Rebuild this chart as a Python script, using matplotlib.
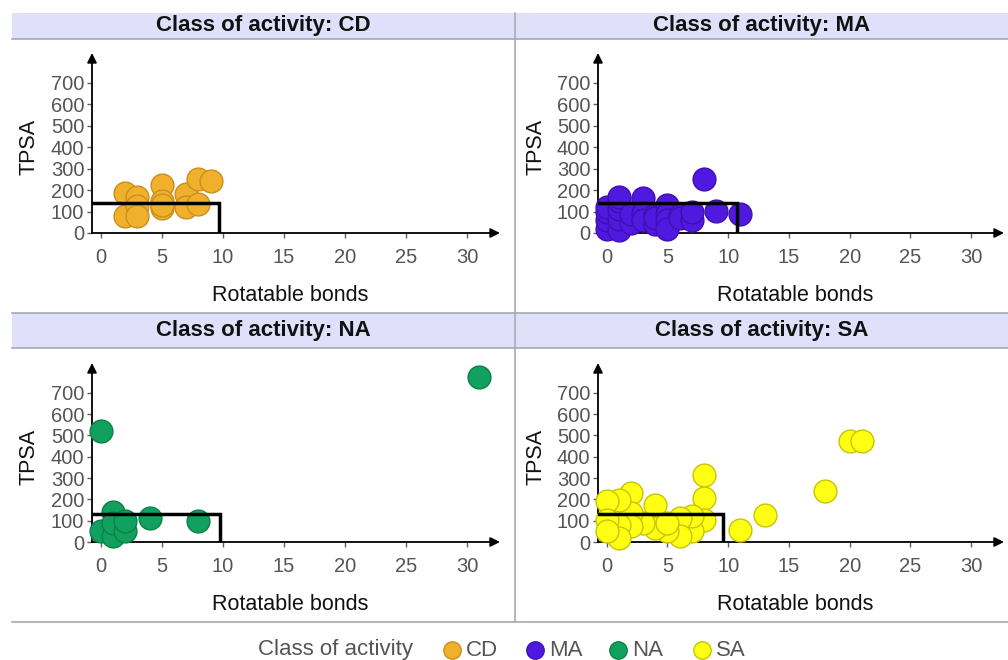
import matplotlib
matplotlib.use("Agg")
import matplotlib.pyplot as plt
from matplotlib.lines import Line2D
from matplotlib.patches import Rectangle

plt.rcParams["font.family"] = ["Liberation Sans", "DejaVu Sans"]

# data (x = rotatable bonds, y = TPSA)
classes = ["CD", "MA", "NA", "SA"]
colors = {"CD": "#F0B02C", "MA": "#5019E0", "NA": "#12A05F", "SA": "#FFFF14"}
edges = {"CD": "#C8901E", "MA": "#3E10B0", "NA": "#0B8048", "SA": "#C8C400"}

cd_x = [2, 2, 3, 3, 3, 5, 5, 5, 5, 7, 7, 8, 8, 9]
cd_y = [185, 80, 170, 125, 80, 225, 150, 115, 130, 180, 120, 250, 135, 245]

ma_x = [0, 0, 0, 0, 1, 1, 1, 1, 1, 2, 2, 3, 3, 3, 4, 4, 4, 5, 5, 5, 5, 6, 6, 7, 7, 8, 9, 11]
ma_y = [20, 60, 100, 120, 15, 65, 110, 150, 170, 45, 90, 165, 95, 60, 85, 40, 70,
        130, 90, 60, 20, 85, 70, 60, 100, 250, 105, 90]

na_x = [31, 0, 1, 4, 8, 0, 1, 1, 2, 2]
na_y = [775, 520, 143, 112, 97, 50, 27, 89, 50, 97]

sa_x = [20, 21, 18, 13, 11, 8, 8, 8, 7, 7, 6, 6, 5, 4, 4, 3, 2, 2, 2, 1, 1, 1, 0, 0, 0, 5]
sa_y = [476, 476, 238, 128, 55, 316, 207, 105, 50, 120, 113, 27, 50, 175, 66, 89,
        230, 136, 74, 199, 81, 19, 191, 105, 50, 90]

data = {"CD": (cd_x, cd_y), "MA": (ma_x, ma_y), "NA": (na_x, na_y), "SA": (sa_x, sa_y)}

# rule-of-thumb box limits per panel (rotatable bonds, TPSA)
box_x = {"CD": 9.7, "MA": 10.7, "NA": 9.75, "SA": 9.6}
box_y = {"CD": 140, "MA": 140, "NA": 133, "SA": 133}

x_ticks = [0, 5, 10, 15, 20, 25, 30]
y_ticks = [0, 100, 200, 300, 400, 500, 600, 700]
x_lim = (-0.72, 32.7)
y_lim = (0, 840)

W, H = 1008, 660
fig = plt.figure(figsize=(W / 100, H / 100), dpi=100)


def px(x0, y0, x1, y1):
    # pixel box (top-left origin) -> figure fraction rect
    return [x0 / W, 1 - y1 / H, (x1 - x0) / W, (y1 - y0) / H]


# axes rectangles in pixels: left, top, right, bottom
ax_px = {
    "CD": (92, 53, 500, 233),
    "MA": (598, 53, 1004, 233),
    "NA": (92, 363, 500, 542),
    "SA": (598, 363, 1004, 542),
}
strip_px = {
    "CD": (12, 13, 514, 39),
    "MA": (515, 13, 1008, 39),
    "NA": (12, 313, 514, 348),
    "SA": (515, 313, 1008, 348),
}

strip_col = "#E0E0FA"
line_col = "#A8A8B8"
tick_col = "#606060"

for cls in classes:
    sx0, sy0, sx1, sy1 = strip_px[cls]
    fig.patches.append(Rectangle((sx0 / W, 1 - sy1 / H), (sx1 - sx0) / W, (sy1 - sy0) / H,
                                 transform=fig.transFigure, facecolor=strip_col,
                                 edgecolor="none", zorder=0))
    fig.add_artist(Line2D([sx0 / W, sx1 / W], [1 - sy1 / H] * 2, color=line_col, lw=1.2))
    fig.text((sx0 + sx1) / 2 / W, 1 - (sy0 + sy1) / 2 / H, f"Class of activity: {cls}",
             ha="center", va="center", fontsize=16, fontweight="bold", color="#111111")

    l, t, r, b = ax_px[cls]
    ax = fig.add_axes(px(l, t, r, b))
    xs, ys = data[cls]
    ax.scatter(xs, ys, s=270, c=colors[cls], edgecolors=edges[cls], linewidths=1.0,
               zorder=3, clip_on=False)
    ax.plot([x_lim[0], box_x[cls], box_x[cls]], [box_y[cls], box_y[cls], 0],
            color="black", lw=2.5, zorder=4, solid_joinstyle="miter")
    ax.set_xlim(*x_lim)
    ax.set_ylim(*y_lim)
    ax.set_xticks(x_ticks)
    ax.set_yticks(y_ticks)
    for s in ax.spines.values():
        s.set_visible(False)
    ax.patch.set_alpha(0)
    ax.tick_params(axis="both", colors=tick_col, labelcolor="#555555", labelsize=14.5,
                   length=3.5, width=1)
    ax.tick_params(axis="x", pad=7)
    ax.tick_params(axis="y", pad=2)
    ax.annotate("", xy=(1, 0), xytext=(0, 0), xycoords="axes fraction",
                arrowprops=dict(arrowstyle="-|>", color="black", lw=1.3,
                                mutation_scale=14, shrinkA=0, shrinkB=0), zorder=2)
    ax.annotate("", xy=(0, 1), xytext=(0, 0), xycoords="axes fraction",
                arrowprops=dict(arrowstyle="-|>", color="black", lw=1.3,
                                mutation_scale=14, shrinkA=0, shrinkB=0), zorder=2)
    ax.set_xlabel("Rotatable bonds", fontsize=15.5, color="#111111")
    ax.set_ylabel("TPSA", fontsize=15.5, color="#111111")
    ax.xaxis.set_label_coords(0.485, -0.29)
    ax.yaxis.set_label_coords(-0.128, 0.478)

# panel dividers
fig.add_artist(Line2D([12 / W, 1], [1 - 313 / H] * 2, color=line_col, lw=1.2))
fig.add_artist(Line2D([12 / W, 1], [1 - 622 / H] * 2, color=line_col, lw=1.2))
fig.add_artist(Line2D([515 / W] * 2, [1 - 13 / H, 1 - 622 / H], color=line_col, lw=1.2))

# legend row
ly = 1 - 650 / H
fig.text(258 / W, ly, "Class of activity", ha="left", va="center", fontsize=16,
         color="#555555")
leg_marker_x = [452, 535, 618, 702]
for cls, mx in zip(classes, leg_marker_x):
    fig.add_artist(Line2D([mx / W], [ly], marker="o", markersize=12.5, linestyle="none",
                          markerfacecolor=colors[cls], markeredgecolor=edges[cls],
                          markeredgewidth=1.0))
    fig.text((mx + 14) / W, ly, cls, ha="left", va="center", fontsize=16, color="#555555")

fig.savefig("out.png", dpi=100)
